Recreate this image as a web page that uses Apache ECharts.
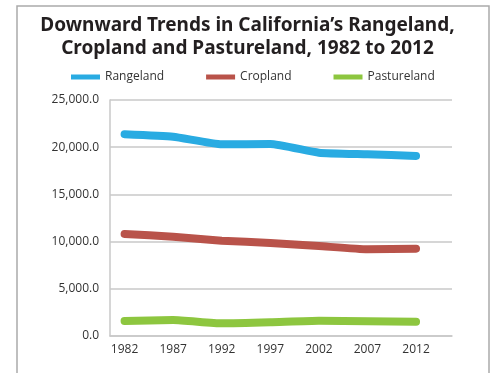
<!DOCTYPE html>
<html>
<head>
<meta charset="utf-8">
<script src="https://cdn.jsdelivr.net/npm/echarts@6/dist/echarts.min.js"></script>
<style>
html, body { margin: 0; padding: 0; background: #fff; }
#main { width: 495px; height: 373px; }
</style>
</head>
<body>
<div id="main"></div>
<script>
var years = [1982, 1987, 1992, 1997, 2002, 2007, 2012];
var rangeland = [21370, 21110, 20300, 20340, 19420, 19250, 19070];
var cropland = [10800, 10520, 10100, 9850, 9530, 9180, 9250];
var pastureland = [1590, 1690, 1340, 1450, 1620, 1550, 1510];

function pairs(vals) {
    return years.map(function (y, i) { return [y, vals[i]]; });
}

var myChart = echarts.init(document.getElementById('main'));

var lineSeries = function (name, vals, color) {
    return {
        name: name,
        type: 'line',
        data: pairs(vals),
        smooth: 0.15,
        showSymbol: false,
        symbol: 'none',
        lineStyle: { width: 8, color: color, cap: 'round', join: 'round' },
        itemStyle: { color: color }
    };
};

myChart.setOption({
    backgroundColor: '#fff',
    animation: false,
    graphic: [{
        type: 'rect',
        shape: { x: 17, y: 6, width: 472, height: 380 },
        style: { fill: 'none', stroke: '#aaaaaa', lineWidth: 1.5 },
        silent: true
    }],
    title: {
        text: 'Downward Trends in California\u2019s Rangeland,\nCropland and Pastureland, 1982 to 2012',
        left: 'center',
        top: 9,
        textStyle: {
            fontFamily: 'Noto Sans',
            fontWeight: 'bold',
            fontSize: 19,
            lineHeight: 23,
            color: '#231f20'
        }
    },
    legend: {
        top: 66,
        left: 66,
        itemWidth: 29,
        itemHeight: 5,
        itemGap: 42,
        icon: 'rect',
        textStyle: { fontFamily: 'Open Sans', fontSize: 12, color: '#333' },
        data: ['Rangeland', 'Cropland', 'Pastureland']
    },
    grid: { left: 110, right: 43, top: 100, bottom: 37 },
    xAxis: {
        type: 'value',
        min: 1980.5,
        max: 2015.7,
        splitLine: { show: false },
        axisLine: { show: true, lineStyle: { color: '#c8c8c8', width: 1.5 } },
        axisTick: { show: false },
        axisLabel: {
            customValues: years,
            color: '#333',
            fontFamily: 'Open Sans',
            fontSize: 12,
            margin: 8,
            formatter: function (v) { return String(v); }
        }
    },
    yAxis: {
        type: 'value',
        min: 0,
        max: 25000,
        interval: 5000,
        axisLine: { show: true, lineStyle: { color: '#c8c8c8', width: 1.5 } },
        axisTick: { show: false },
        splitLine: { lineStyle: { color: '#c8c8c8', width: 1.5 } },
        axisLabel: {
            color: '#333',
            fontFamily: 'Open Sans',
            fontSize: 12,
            margin: 11,
            formatter: function (v) {
                return v.toLocaleString('en-US', { minimumFractionDigits: 1, maximumFractionDigits: 1 });
            }
        }
    },
    series: [
        lineSeries('Rangeland', rangeland, '#29abe2'),
        lineSeries('Cropland', cropland, '#b9534a'),
        lineSeries('Pastureland', pastureland, '#8dc63f')
    ]
});
</script>
</body>
</html>
